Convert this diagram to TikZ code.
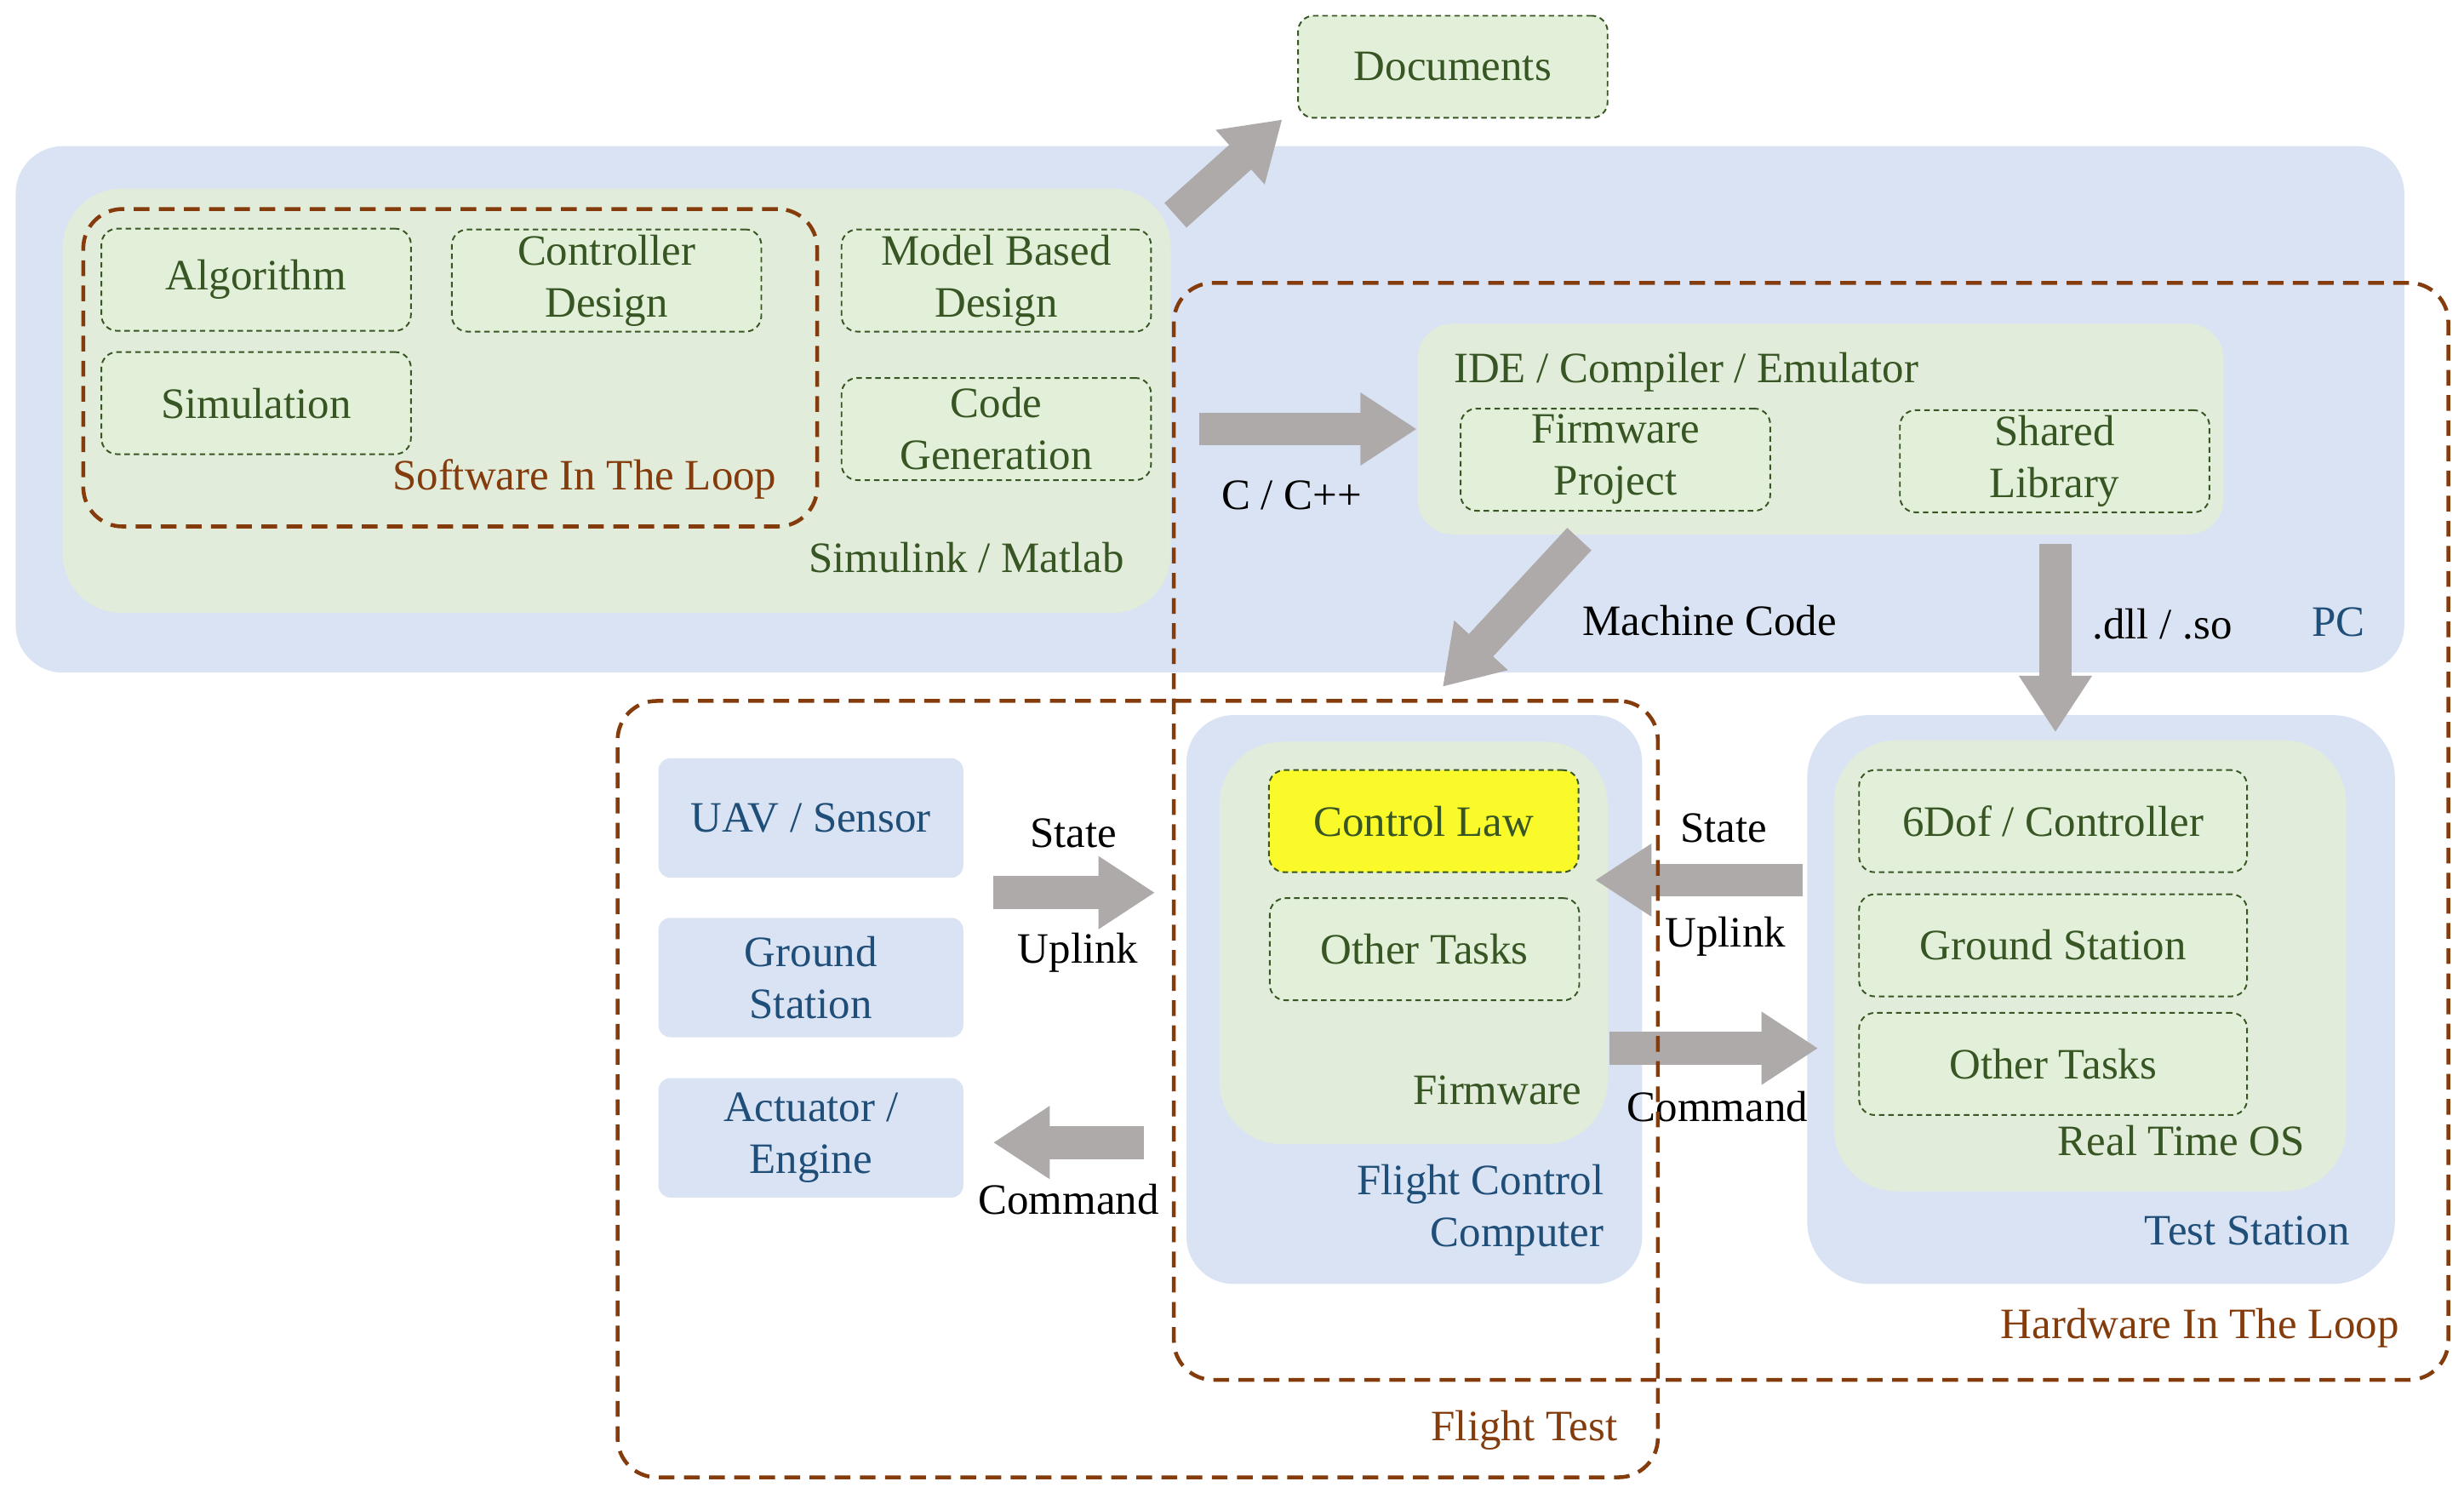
\documentclass[tikz,border=0pt]{standalone}
\usepackage{fontspec}
\setmainfont{Liberation Serif}
\usetikzlibrary{arrows.meta, positioning, fit, calc}

\definecolor{pcblue}{HTML}{DAE3F3}
\definecolor{simgreen}{HTML}{E2ECDB}
\definecolor{taskgreen}{HTML}{E2F0D9}
\definecolor{txtgreen}{HTML}{375623}
\definecolor{txtbrown}{HTML}{843C0C}
\definecolor{txtblue}{HTML}{1F4E79}
\definecolor{arrowgray}{HTML}{AEAAAA}
\definecolor{lawyellow}{HTML}{FAFA2A}

\tikzset{
  bluebox/.style={fill=pcblue, rounded corners=0.6cm, inner sep=0pt},
  greenbox/.style={fill=simgreen, rounded corners=0.75cm, inner sep=0pt},
  taskbox/.style={draw=txtgreen, fill=taskgreen, line width=0.6pt,
    dash pattern=on 0.07cm off 0.05cm, rounded corners=0.2cm,
    inner sep=0pt, minimum width=3.94cm, minimum height=1.3cm,
    text=txtgreen, align=center},
  widetask/.style={taskbox, minimum width=4.94cm},
  unitbox/.style={fill=pcblue, rounded corners=0.15cm, inner sep=0pt,
    minimum width=3.88cm, minimum height=1.52cm, text=txtblue, align=center},
  loopbox/.style={draw=txtbrown, line width=1.4pt,
    dash pattern=on 0.2cm off 0.12cm, rounded corners=0.5cm, inner sep=0pt},
  bigarrow/.style={draw=arrowgray, line width=0.42cm,
    -{Triangle[length=0.72cm, width=0.88cm]}},
  greenlbl/.style={text=txtgreen, inner sep=0pt},
  brownlbl/.style={text=txtbrown, inner sep=0pt},
  bluelbl/.style={text=txtblue, inner sep=0pt},
  blacklbl/.style={text=black, inner sep=0pt}
}

\begin{document}
\begin{tikzpicture}[x=0.02cm, y=-0.02cm, font=\fontsize{15.7}{18.8}\selectfont]

        \useasboundingbox (0,0) rectangle (1568,950);

        % PC
        \node[bluebox, fit={(10,93) (1530,428)}] (pc) {};
        \node[bluelbl] (pclbl) at (1488,396) {PC};

        % Simulink / Matlab
        \node[greenbox, fit={(40,120) (745,390)}] (simulink) {};
        \node[greenlbl] (simlbl) at (615,355) {Simulink / Matlab};
        \node[taskbox] (algorithm) at (163,178) {Algorithm};
        \node[taskbox] (ctrldesign) at (386,178.5) {Controller\\Design};
        \node[taskbox] (simulation) at (163,256.5) {Simulation};
        \node[taskbox] (mbd) at (634,178.5) {Model Based\\Design};
        \node[taskbox] (codegen) at (634,273) {Code\\Generation};
        \node[loopbox, fit={(53,133) (520,335)}] (sil) {};
        \node[brownlbl] (sillbl) at (372,305) {Software In The Loop};

        % Documents
        \node[taskbox] (docs) at (924.5,42.5) {Documents};

        % IDE / Compiler / Emulator
        \node[greenbox, rounded corners=0.45cm, fit={(902,206) (1415,340)}] (ide) {};
        \node[greenlbl] (idelbl) at (1073,237) {IDE / Compiler / Emulator};
        \node[taskbox] (fwproject) at (1028,292.5) {Firmware\\Project};
        \node[taskbox] (sharedlib) at (1307.5,293.5) {Shared\\Library};

        % Flight Control Computer
        \node[bluebox, fit={(755,455) (1045,817)}] (fcc) {};
        \node[bluelbl, align=right, anchor=east] (fcclbl) at (1021,770) {Flight Control\\Computer};
        \node[greenbox, rounded corners=0.8cm, fit={(776,472) (1023,728)}] (firmware) {};
        \node[greenlbl] (fwlbl) at (953,694) {Firmware};
        \node[taskbox, fill=lawyellow] (ctrllaw) at (906,522.5) {Control Law};
        \node[taskbox] (othertasks) at (906.5,604) {Other Tasks};

        % Test Station
        \node[bluebox, rounded corners=0.8cm, fit={(1150,455) (1524,817)}] (teststation) {};
        \node[bluelbl] (tslbl) at (1430,783) {Test Station};
        \node[greenbox, rounded corners=0.8cm, fit={(1167,471) (1493,758)}] (rtos) {};
        \node[greenlbl] (rtoslbl) at (1388,726) {Real Time OS};
        \node[widetask] (sixdof) at (1306.5,522.5) {6Dof / Controller};
        \node[widetask] (gndstation) at (1306.5,601.5) {Ground Station};
        \node[widetask] (othertaskstwo) at (1306.5,677) {Other Tasks};

        % UAV side
        \node[unitbox] (uav) at (516,520.5) {UAV / Sensor};
        \node[unitbox] (gnd) at (516,622) {Ground\\Station};
        \node[unitbox] (actuator) at (516,724) {Actuator /\\Engine};

        % Arrows
        \coordinate (docstail) at (748,137);
        \coordinate (docshead) at (816,76);
        \draw[bigarrow] (docstail) -- (docshead);

        \coordinate (cpptail) at (763,273);
        \draw[bigarrow] (cpptail) -- (cpptail -| ide.west);
        \node[blacklbl] (cpplbl) at (822,315) {C / C++};

        \coordinate (mctail) at (1005,343);
        \coordinate (mchead) at (918,437);
        \draw[bigarrow] (mctail) -- (mchead);
        \node[blacklbl] (mclbl) at (1088,395) {Machine Code};

        \coordinate (dlltail) at (1308,346);
        \draw[bigarrow] (dlltail) -- (1308,466);
        \node[blacklbl] (dlllbl) at (1376,397) {.dll / .so};

        \coordinate (uptail) at (632,568);
        \draw[bigarrow] (uptail) -- (735,568);
        \node[blacklbl] (statelbl) at (683,530) {State};
        \node[blacklbl] (uplinklbl) at (686,606) {Uplink};

        \coordinate (cmdtail) at (728,727);
        \draw[bigarrow] (cmdtail) -- (632,727);
        \node[blacklbl] (cmdlbl) at (680,763) {Command};

        \coordinate (htail) at (1147,560);
        \draw[bigarrow] (htail) -- (1015,560);
        \node[blacklbl] (hstatelbl) at (1097,527) {State};
        \node[blacklbl] (huplinklbl) at (1098,596) {Uplink};

        \coordinate (hcmdtail) at (1024,667);
        \draw[bigarrow] (hcmdtail) -- (1157,667);
        \node[blacklbl] (hcmdlbl) at (1093,704) {Command};

        % Loops
        \node[loopbox, fit={(747,180) (1558,878)}] (hil) {};
        \node[brownlbl] (hillbl) at (1400,845) {Hardware In The Loop};
        \node[loopbox, fit={(393,446) (1055,940)}] (flighttest) {};
        \node[brownlbl] (ftlbl) at (970,910) {Flight Test};

\end{tikzpicture}
\end{document}
